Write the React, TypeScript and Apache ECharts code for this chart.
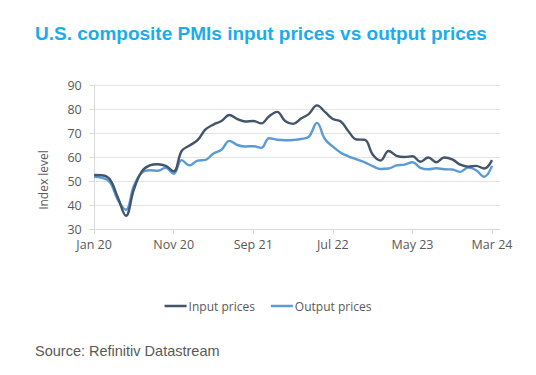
import React, { useEffect, useRef } from 'react';
import * as echarts from 'echarts';

const xLabels = ['Jan 20', 'Nov 20', 'Sep 21', 'Jul 22', 'May 23', 'Mar 24'];
const xLabelMonths = [0, 10, 20, 30, 40, 50];
const yTicks = { min: 30, max: 90, interval: 10 };

const inputPrices = [
  52.5, 52.4, 50.6, 43, 35.5, 46.5, 54, 56.5, 57, 56.3, 54,
  62.5, 64.8, 67, 71.5, 73.5, 75, 77.5, 75.8, 74.8, 75,
  74, 77, 78.8, 75, 73.8, 76, 78, 81.5, 78.8, 75.8,
  74.8, 70.5, 67.3, 67.2, 61, 58.5, 62.5, 60.5, 60, 60.3,
  58, 59.8, 57.8, 59.8, 59, 56.8, 56, 56.3, 55.2, 58.7,
];

const outputPrices = [
  51.8, 51.3, 49.5, 42, 38, 48, 53.5, 54.5, 54.3, 55.5, 53,
  58.7, 56.5, 58.5, 58.8, 61.5, 63, 66.7, 65, 64.4, 64.5,
  63.8, 67.8, 67.2, 67, 67.1, 67.5, 68.5, 74.2, 67.5, 64.3,
  61.8, 60.2, 59, 57.8, 56.2, 55, 55.2, 56.5, 56.8, 57.8,
  55.5, 54.9, 55.3, 54.9, 54.8, 53.8, 55.6, 54.5, 51.8, 56.3,
];

const seriesNames = ['Input prices', 'Output prices'];
const seriesColors = ['#44546a', '#5b9bd5'];

export default function App() {
  const ref = useRef<HTMLDivElement>(null);

  useEffect(() => {
    const chart = echarts.init(ref.current as HTMLDivElement, null, { renderer: 'svg' });
    const font = '"Open Sans", sans-serif';
    const gray = '#595959';
    const toPairs = (arr: number[]) => arr.map((v, i) => [i, v]);

    chart.setOption({
      animation: false,
      backgroundColor: '#ffffff',
      title: [
        {
          text: 'U.S. composite PMIs input prices vs output prices',
          left: 30,
          top: 19,
          textStyle: {
            color: '#1aacec',
            fontSize: 19,
            fontWeight: 'bold',
            fontFamily: '"Liberation Sans", Arial, sans-serif',
          },
        },
        {
          text: 'Source: Refinitiv Datastream',
          left: 30,
          top: 338,
          textStyle: {
            color: gray,
            fontSize: 14.5,
            fontWeight: 'normal',
            fontFamily: '"Liberation Sans", Arial, sans-serif',
          },
        },
      ],
      legend: {
        data: seriesNames,
        top: 295,
        left: 'center',
        icon: 'rect',
        itemWidth: 22,
        itemHeight: 2.5,
        itemGap: 16,
        textStyle: { color: gray, fontSize: 12, fontFamily: font, padding: [0, 0, 0, -3] },
      },
      graphic: [
        {
          type: 'text',
          x: 43,
          y: 180,
          rotation: Math.PI / 2,
          style: {
            text: 'Index level',
            align: 'center',
            verticalAlign: 'middle',
            fill: gray,
            fontSize: 12,
            fontFamily: font,
          },
        },
      ],
      grid: { left: 91.7, right: 36, top: 85, bottom: 146 },
      xAxis: {
        type: 'value',
        min: -0.3,
        max: 51,
        axisLine: { show: true, lineStyle: { color: '#d9d9d9', width: 1 } },
        axisTick: {
          show: true,
          customValues: xLabelMonths,
          length: 5,
          lineStyle: { color: '#d9d9d9' },
        },
        axisLabel: {
          customValues: xLabelMonths,
          formatter: (v: number) => {
            const k = xLabelMonths.indexOf(Math.round(v));
            return k >= 0 ? xLabels[k] : '';
          },
          color: gray,
          fontSize: 12.5,
          fontFamily: font,
          margin: 9,
        },
        splitLine: { show: false },
      },
      yAxis: {
        type: 'value',
        min: yTicks.min,
        max: yTicks.max,
        interval: yTicks.interval,
        axisLine: { show: true, lineStyle: { color: '#d9d9d9', width: 1 } },
        axisTick: { show: true, length: 5, lineStyle: { color: '#d9d9d9' } },
        axisLabel: { color: gray, fontSize: 12.5, fontFamily: font, margin: 10 },
        splitLine: { show: true, lineStyle: { color: '#e4e4e4', width: 1 } },
      },
      series: [
        {
          name: seriesNames[0],
          type: 'line',
          data: toPairs(inputPrices),
          smooth: 0.4,
          symbol: 'none',
          color: seriesColors[0],
          lineStyle: { color: seriesColors[0], width: 2.4 },
          z: 3,
        },
        {
          name: seriesNames[1],
          type: 'line',
          data: toPairs(outputPrices),
          smooth: 0.4,
          symbol: 'none',
          color: seriesColors[1],
          lineStyle: { color: seriesColors[1], width: 2.4 },
          z: 2,
        },
      ],
    });

    return () => chart.dispose();
  }, []);

  return (
    <div
      ref={ref}
      style={{ position: 'fixed', left: 0, top: 0, width: 536, height: 375, background: '#fff' }}
    />
  );
}
